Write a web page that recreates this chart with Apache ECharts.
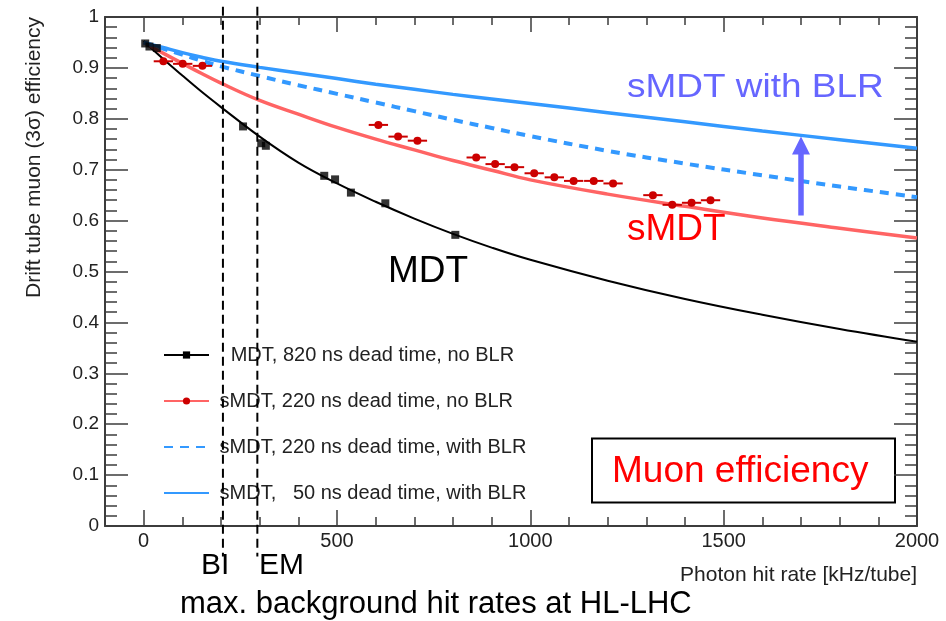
<!DOCTYPE html>
<html><head><meta charset="utf-8">
<script src="https://cdn.jsdelivr.net/npm/echarts@6/dist/echarts.min.js"></script>
<style>html,body{margin:0;padding:0;background:#fff}#c{width:946px;height:621px}</style>
</head><body><div id="c"></div>
<script>
// ---- data ----
const curveX = [0, 50, 100, 150, 200, 300, 400, 500, 600, 700, 800, 900, 1000, 1200, 1400, 1600, 1800, 2000];
const mdtCurve = [0.953, 0.918, 0.885, 0.853, 0.823, 0.765, 0.714, 0.673, 0.637, 0.604, 0.574, 0.547, 0.523, 0.482, 0.446, 0.415, 0.387, 0.362];
const smdtCurve = [0.95, 0.929, 0.909, 0.889, 0.870, 0.836, 0.809, 0.783, 0.760, 0.739, 0.718, 0.699, 0.680, 0.652, 0.628, 0.605, 0.585, 0.566];
const smdtBlrCurve = [0.95, 0.938, 0.926, 0.914, 0.903, 0.884, 0.866, 0.849, 0.832, 0.815, 0.798, 0.782, 0.766, 0.737, 0.712, 0.689, 0.667, 0.646];
const smdt50BlrCurve = [0.95, 0.94, 0.93, 0.921, 0.913, 0.901, 0.89, 0.879, 0.868, 0.858, 0.848, 0.839, 0.830, 0.812, 0.794, 0.776, 0.759, 0.742];

const mdtPointX = [4, 15, 34, 257, 304, 316, 467, 495, 536, 625, 806];
const mdtPointY = [0.948, 0.942, 0.939, 0.785, 0.752, 0.747, 0.688, 0.681, 0.655, 0.634, 0.572];

const smdtPointX = [51, 101, 152, 607, 658, 708, 860, 909, 959, 1010, 1062, 1112, 1164, 1214, 1317, 1367, 1417, 1466];
const smdtPointY = [0.913, 0.908, 0.904, 0.788, 0.765, 0.757, 0.724, 0.711, 0.705, 0.693, 0.685, 0.678, 0.678, 0.673, 0.650, 0.631, 0.635, 0.640];
const smdtPointErr = [25, 25, 25, 25, 25, 25, 25, 25, 25, 25, 25, 25, 25, 25, 25, 25, 25, 25];

const regionNames = ['BI', 'EM'];
const regionRates = [205, 294];
const regionLineTop = 1.02;
const regionLineBottom = -0.06;

const arrowX = [1700];
const arrowFrom = [0.61];
const arrowTo = [0.765];

const xTickLabels = [0, 500, 1000, 1500, 2000];
const yTickLabels = ['0', '0.1', '0.2', '0.3', '0.4', '0.5', '0.6', '0.7', '0.8', '0.9', '1'];

const seriesNames = [
  'MDT, 820 ns dead time, no BLR',
  'sMDT, 220 ns dead time, no BLR',
  'sMDT, 220 ns dead time, with BLR',
  'sMDT,   50 ns dead time, with BLR'
];

// ---- chart ----
const FONT = "'Liberation Sans', Arial, sans-serif";
const AX = '#3c3c3c';
const pair = (xs, ys) => xs.map((x, i) => [x, ys[i]]);

const chart = echarts.init(document.getElementById('c'), null, {renderer: 'canvas'});

const xCommon = {type: 'value', min: -100, max: 2000, splitLine: {show: false}};
const yCommon = {type: 'value', min: 0, max: 1, interval: 0.1, splitLine: {show: false}};

const option = {
  animation: false,
  backgroundColor: '#fff',
  grid: {left: 105, right: 29, top: 17, bottom: 95, containLabel: false},
  legend: {
    data: [
      {name: seriesNames[0]},
      {name: seriesNames[1]},
      {name: seriesNames[2], itemStyle: {opacity: 0}},
      {name: seriesNames[3], itemStyle: {opacity: 0}}
    ],
    orient: 'vertical',
    left: 163, top: 344,
    padding: 0,
    itemWidth: 45, itemHeight: 9, itemGap: 24,
    textStyle: {fontSize: 20, fontFamily: FONT, color: '#222', lineHeight: 22},
    formatter: n => (n === seriesNames[0] ? '   ' : ' ') + n,
    selectedMode: false
  },
  xAxis: [
    Object.assign({}, xCommon, {position: 'bottom', interval: 100,
      axisLine: {show: true, onZero: false, lineStyle: {color: AX, width: 2}},
      axisTick: {show: true, inside: true, length: 9, lineStyle: {color: AX, width: 1.5}},
      axisLabel: {show: false}}),
    Object.assign({}, xCommon, {position: 'bottom',
      axisLine: {show: false, onZero: false},
      axisTick: {show: true, inside: true, length: 16, customValues: xTickLabels, lineStyle: {color: AX, width: 1.5}},
      axisLabel: {show: true, customValues: xTickLabels, fontSize: 20, fontFamily: FONT, color: '#222', margin: 5,
        formatter: v => String(v)}}),
    Object.assign({}, xCommon, {position: 'top', interval: 100,
      axisLine: {show: true, onZero: false, lineStyle: {color: AX, width: 2}},
      axisTick: {show: true, inside: true, length: 8, lineStyle: {color: AX, width: 1.5}},
      axisLabel: {show: false}}),
    Object.assign({}, xCommon, {position: 'top',
      axisLine: {show: false, onZero: false},
      axisTick: {show: true, inside: true, length: 15, customValues: xTickLabels, lineStyle: {color: AX, width: 1.5}},
      axisLabel: {show: false}})
  ],
  yAxis: [
    Object.assign({}, yCommon, {position: 'left',
      axisLine: {show: true, onZero: false, lineStyle: {color: AX, width: 2}},
      axisTick: {show: true, inside: true, length: 23, lineStyle: {color: AX, width: 1.5}},
      minorTick: {show: true, splitNumber: 5, length: 12, lineStyle: {color: AX, width: 1.5}},
      axisLabel: {show: true, fontSize: 19, fontFamily: FONT, color: '#222', margin: 6,
        formatter: v => yTickLabels[Math.round(v * 10)]}}),
    Object.assign({}, yCommon, {position: 'right',
      axisLine: {show: true, onZero: false, lineStyle: {color: AX, width: 2}},
      axisTick: {show: true, inside: true, length: 23, lineStyle: {color: AX, width: 1.5}},
      minorTick: {show: true, splitNumber: 5, length: 12, lineStyle: {color: AX, width: 1.5}},
      axisLabel: {show: false}})
  ],
  series: [
    {name: seriesNames[0], type: 'line', data: pair(curveX, mdtCurve), smooth: 0.4,
      symbol: 'rect', showSymbol: false, lineStyle: {color: '#000', width: 2}, itemStyle: {color: '#000'}, z: 3},
    {name: 'mdt-points', type: 'scatter', data: pair(mdtPointX, mdtPointY), symbol: 'rect', symbolSize: 8,
      itemStyle: {color: '#000'}, z: 5},
    {name: seriesNames[1], type: 'line', data: pair(curveX, smdtCurve), smooth: 0.4,
      symbol: 'circle', showSymbol: false, lineStyle: {color: '#ff6464', width: 3.5}, itemStyle: {color: '#cc0000'}, z: 3},
    {name: 'smdt-points', type: 'custom', z: 5,
      data: smdtPointX.map((x, i) => [x, smdtPointY[i], smdtPointErr[i]]),
      encode: {x: 0, y: 1},
      renderItem: (params, api) => {
        const x = api.value(0), y = api.value(1), e = api.value(2);
        const p = api.coord([x, y]), l = api.coord([x - e, y]), r = api.coord([x + e, y]);
        return {type: 'group', children: [
          {type: 'line', shape: {x1: l[0], y1: l[1], x2: r[0], y2: r[1]}, style: {stroke: '#cc0000', lineWidth: 2}},
          {type: 'circle', shape: {cx: p[0], cy: p[1], r: 4}, style: {fill: '#cc0000'}}
        ]};
      }},
    {name: seriesNames[2], type: 'line', data: pair(curveX, smdtBlrCurve), smooth: 0.4,
      symbol: 'circle', showSymbol: false, lineStyle: {color: '#3399ff', width: 4, type: [9, 7]}, itemStyle: {color: '#3399ff'}, z: 3},
    {name: seriesNames[3], type: 'line', data: pair(curveX, smdt50BlrCurve), smooth: 0.4,
      symbol: 'circle', showSymbol: false, lineStyle: {color: '#3399ff', width: 3.5}, itemStyle: {color: '#3399ff'}, z: 3},
    ...regionRates.map((r, i) => ({
      name: 'region-' + regionNames[i], type: 'line', clip: false, silent: true, z: 10,
      data: [[r, regionLineTop], [r, regionLineBottom]], symbol: 'none',
      lineStyle: {color: '#000', width: 2, type: [9, 5]}
    })),
    {name: 'arrow', type: 'custom', z: 6,
      data: arrowX.map((x, i) => [x, arrowFrom[i], arrowTo[i]]),
      encode: {x: 0, y: [1, 2]},
      renderItem: (params, api) => {
        const b = api.coord([api.value(0), api.value(1)]);
        const t = api.coord([api.value(0), api.value(2)]);
        const hw = 9, hl = 18;
        return {type: 'group', children: [
          {type: 'line', shape: {x1: b[0], y1: b[1], x2: t[0], y2: t[1] + hl - 1}, style: {stroke: '#6666ff', lineWidth: 5.5}},
          {type: 'polygon', shape: {points: [[t[0], t[1]], [t[0] - hw, t[1] + hl], [t[0] + hw, t[1] + hl]]}, style: {fill: '#6666ff'}}
        ]};
      }}
  ],
  graphic: [
    {type: 'text', x: 34, y: 17, rotation: Math.PI / 2,
      style: {text: 'Drift tube muon (3σ) efficiency', fontSize: 21, fontFamily: FONT, fill: '#222', align: 'right', verticalAlign: 'middle'}},
    {type: 'text', x: 917, y: 575.5,
      style: {text: 'Photon hit rate [kHz/tube]', fontSize: 21, fontFamily: FONT, fill: '#222', align: 'right', verticalAlign: 'middle'}},
    {type: 'text', x: 627, y: 88, scaleX: 1.12,
      style: {text: 'sMDT with BLR', fontSize: 33, fontFamily: FONT, fill: '#6666ff', align: 'left', verticalAlign: 'middle'}},
    {type: 'text', x: 627, y: 230,
      style: {text: 'sMDT', fontSize: 37, fontFamily: FONT, fill: '#ff0000', align: 'left', verticalAlign: 'middle'}},
    {type: 'text', x: 388, y: 272,
      style: {text: 'MDT', fontSize: 37, fontFamily: FONT, fill: '#000', align: 'left', verticalAlign: 'middle'}},
    {type: 'rect', shape: {x: 592, y: 438.5, width: 303, height: 64},
      style: {fill: '#fff', stroke: '#000', lineWidth: 2}},
    {type: 'text', x: 612, y: 472,
      style: {text: 'Muon efficiency', fontSize: 37, fontFamily: FONT, fill: '#ff0000', align: 'left', verticalAlign: 'middle'}},
    {type: 'text', x: 201, y: 566,
      style: {text: regionNames[0], fontSize: 30, fontFamily: FONT, fill: '#000', align: 'left', verticalAlign: 'middle'}},
    {type: 'text', x: 259, y: 566,
      style: {text: regionNames[1], fontSize: 30, fontFamily: FONT, fill: '#000', align: 'left', verticalAlign: 'middle'}},
    {type: 'text', x: 180, y: 604,
      style: {text: 'max. background hit rates at HL-LHC', fontSize: 31, fontFamily: FONT, fill: '#000', align: 'left', verticalAlign: 'middle'}}
  ]
};
chart.setOption(option);
</script>
</body></html>
